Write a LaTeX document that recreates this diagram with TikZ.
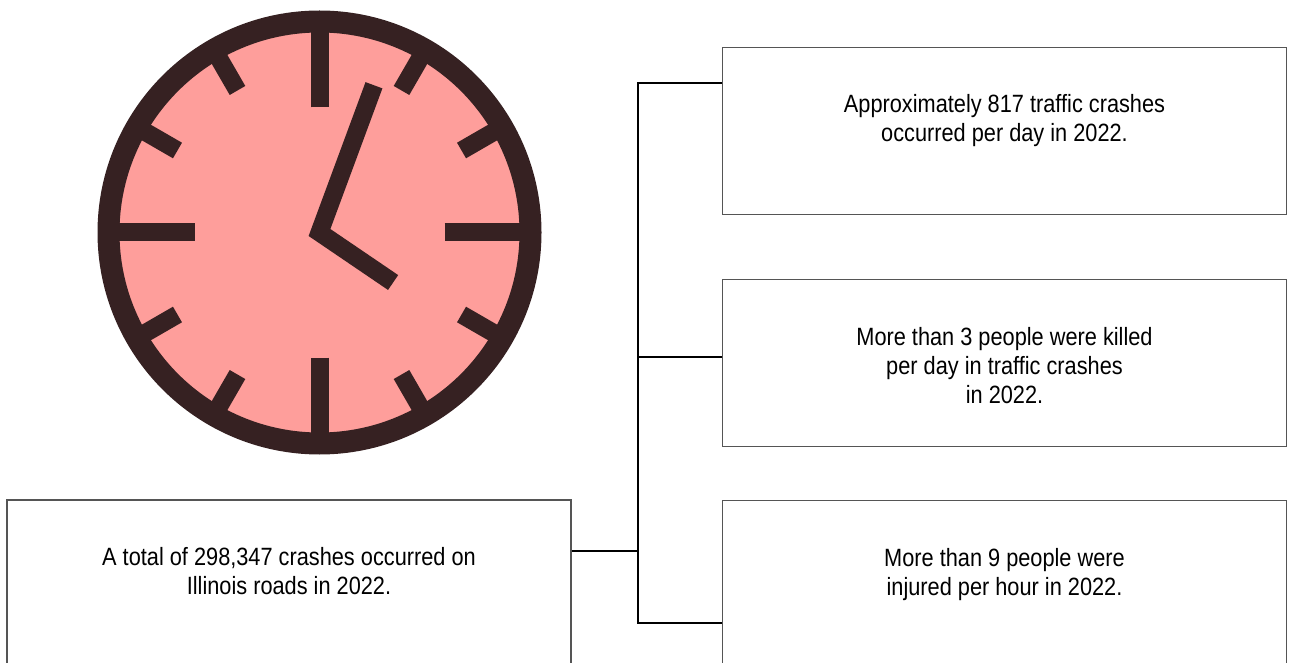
\documentclass[tikz,border=0pt]{standalone}
\usepackage{fontspec}
\setmainfont{Liberation Sans}[FakeStretch=0.87]
\usetikzlibrary{positioning}
\definecolor{clockface}{HTML}{FE9E9B}
\definecolor{clockrim}{HTML}{362122}
\definecolor{boxline}{HTML}{555555}

\tikzstyle{infobox}=[draw=boxline,line width=1.5pt,minimum width=564pt,minimum height=167pt,inner sep=0pt]
\tikzstyle{infotext}=[align=center,inner sep=0pt,font=\fontsize{25}{29}\selectfont]
\tikzstyle{link}=[line width=2pt,black]
\tikzstyle{tick}=[line width=18pt,clockrim]
\tikzstyle{hand}=[line width=18pt,clockrim,line join=miter]

\begin{document}
\begin{tikzpicture}[x=1pt,y=1pt]
  \useasboundingbox (0,0) rectangle (1289,662);
  \clip (0,0) rectangle (1289,662);

  \coordinate (clk) at (319.5,429.5);
  \fill[clockface] (clk) circle (211);
  \foreach \a in {0,90,180,270}
    \draw[tick] (clk) ++(\a:125) -- ++(\a:80);
  \foreach \a in {30,60,120,150,210,240,300,330}
    \draw[tick] (clk) ++(\a:164) -- ++(\a:41);
  \draw[clockrim,line width=22pt] (clk) circle (211);
  \draw[hand] (clk) ++(69.7:157) -- (clk) -- ++(-34.2:89);

  \node[infobox] (daybox) at (1004.5,531.2) {};
  \node[infobox] (killbox) at (1004.5,299) {};
  \node[infobox] (injurebox) at (1004.5,78) {};
  \node[infobox] (totalbox) at (289,78.5) {};

  \node[infotext,below=48pt of daybox.north] (daytext) {Approximately 817 traffic crashes\\occurred per day in 2022.};
  \node[infotext,below=48pt of killbox.north] (killtext) {More than 3 people were killed\\per day in traffic crashes\\in 2022.};
  \node[infotext,below=48pt of injurebox.north] (injuretext) {More than 9 people were\\injured per hour in 2022.};
  \node[infotext,below=48pt of totalbox.north] (totaltext) {A total of 298,347 crashes occurred on\\Illinois roads in 2022.};

  \coordinate (jday) at ([yshift=-36.5pt]daybox.north west);
  \coordinate (jkill) at ([yshift=-78.4pt]killbox.north west);
  \coordinate (jinjure) at ([yshift=-123.5pt]injurebox.north west);
  \coordinate (jtotal) at ([yshift=-51.7pt]totalbox.north east);

  \draw[link] (jday) -- ++(-83.7,0) coordinate (bus) |- (jinjure);
  \draw[link] (jkill) -- (bus |- jkill);
  \draw[link] (jtotal) -- (bus |- jtotal);
\end{tikzpicture}
\end{document}
